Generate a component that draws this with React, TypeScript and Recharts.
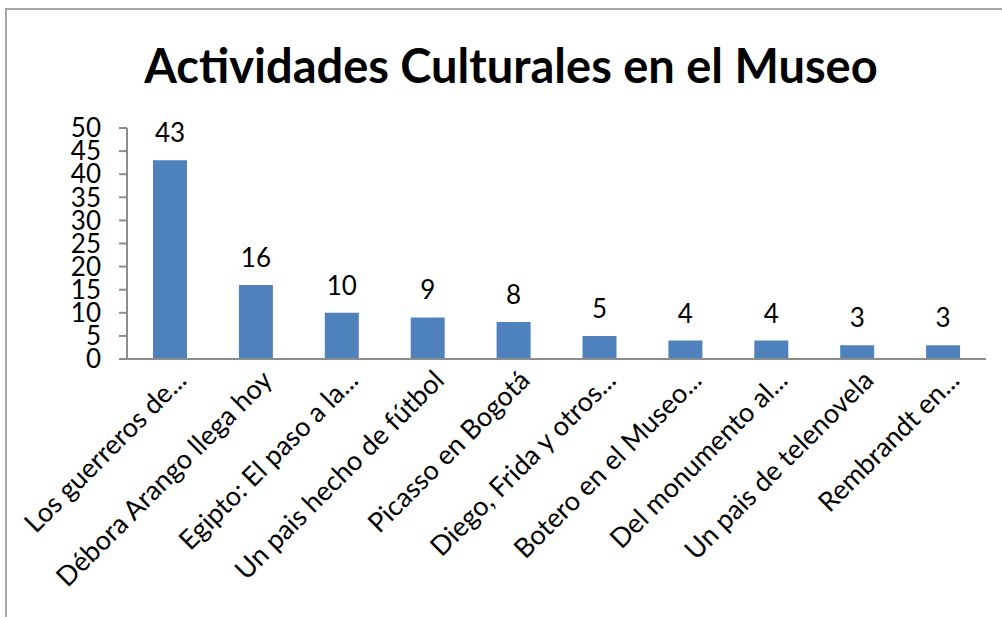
import React from 'react';
import { BarChart, Bar, XAxis, YAxis, LabelList } from 'recharts';

const categories = [
  'Los guerreros de...',
  'Débora Arango llega hoy',
  'Egipto: El paso a la...',
  'Un pais hecho de fútbol',
  'Picasso en Bogotá',
  'Diego, Frida y otros...',
  'Botero en el Museo...',
  'Del monumento al...',
  'Un pais de telenovela',
  'Rembrandt en...',
];
const visitas = [43, 16, 10, 9, 8, 5, 4, 4, 3, 3];
const yTicks = [0, 5, 10, 15, 20, 25, 30, 35, 40, 45, 50];

const data = categories.map((name, i) => ({ name, value: visitas[i] }));

const font = 'Lato, "Open Sans", sans-serif';

const RotatedTick = (props: any) => {
  const { x, y, payload } = props;
  const ax = x + 18;
  const ay = y + 23;
  return (
    <text
      x={ax}
      y={ay}
      textAnchor="end"
      fontSize={27}
      fontFamily={font}
      fill="#000"
      transform={`rotate(-45, ${ax}, ${ay})`}
    >
      {payload.value}
    </text>
  );
};

export default function App() {
  return (
    <div style={{ position: 'absolute', left: 0, top: 0, width: 1002, height: 617, background: '#fff' }}>
      <div
        style={{
          position: 'absolute',
          left: 5,
          top: 8,
          width: 1010,
          height: 620,
          borderLeft: '2px solid #a6a6a6',
          borderTop: '2px solid #a6a6a6',
        }}
      />
      <div
        style={{
          position: 'absolute',
          left: 0,
          width: 1022,
          top: 37,
          textAlign: 'center',
          fontFamily: font,
          fontWeight: 700,
          fontSize: 47,
          color: '#000',
          lineHeight: '56px',
        }}
      >
        Actividades Culturales en el Museo
      </div>
      <div style={{ position: 'absolute', left: 0, top: 0 }}>
        <BarChart width={1002} height={617} data={data} margin={{ top: 128, right: 16, bottom: 0, left: 0 }}>
          <XAxis
            dataKey="name"
            interval={0}
            height={258}
            tickLine={false}
            tickSize={0}
            tickMargin={0}
            stroke="#8c8c8c"
            strokeWidth={2}
            tick={<RotatedTick />}
          />
          <YAxis
            domain={[0, 50]}
            ticks={yTicks}
            interval={0}
            width={127}
            tickSize={8}
            tickMargin={18}
            stroke="#8c8c8c"
            strokeWidth={2}
            tick={{ fontSize: 26, fontFamily: font, fill: '#000' }}
          />
          <Bar dataKey="value" fill="#4f81bd" barSize={34} isAnimationActive={false}>
            <LabelList dataKey="value" position="top" offset={18} fontSize={26} fontFamily={font} fill="#000" />
          </Bar>
        </BarChart>
      </div>
    </div>
  );
}
